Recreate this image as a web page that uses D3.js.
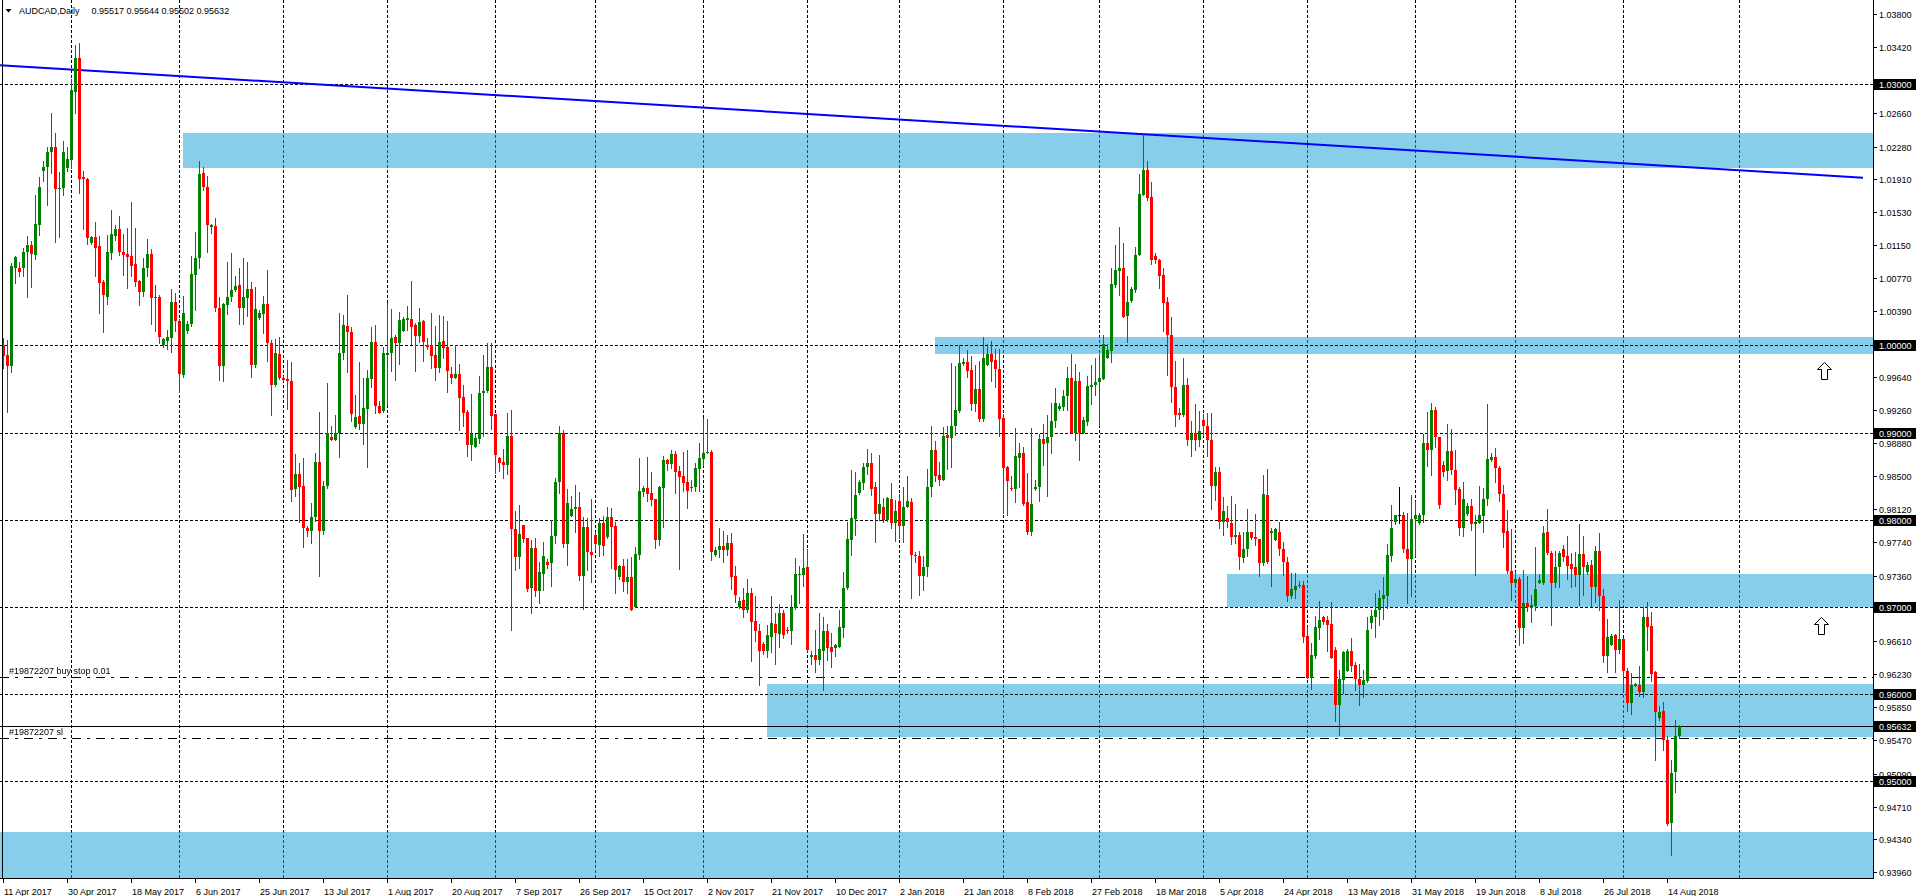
<!DOCTYPE html>
<html><head><meta charset="utf-8">
<script src="https://cdn.jsdelivr.net/npm/d3@7/dist/d3.min.js"></script>
<style>
html,body{margin:0;padding:0;background:#fff;overflow:hidden;}
svg{display:block;font-family:"Liberation Sans",Arial,sans-serif;}
</style></head><body>
<svg id="chart" width="1916" height="896"></svg>
<script>
// ---------------- data ----------------
const symbolTitle = "AUDCAD,Daily";
const lastQuote = ["0.95517", "0.95644", "0.95502", "0.95632"];
const firstBarDate = "2017-04-11";
const closedDays = ["2017-12-24", "2017-12-25", "2017-12-31", "2018-01-01"];
const futureDays = 20;

const opens = [1.0000,0.9989,0.9976,1.0089,1.0089,1.0089,1.0107,1.0115,1.0104,1.0138,
1.0200,1.0205,1.0222,1.0228,1.0179,1.0180,1.0203,1.0212,1.0291,1.0330,
1.0193,1.0191,1.0117,1.0124,1.0114,1.0073,1.0056,1.0106,1.0125,1.0134,
1.0107,1.0105,1.0102,1.0093,1.0074,1.0061,1.0089,1.0105,1.0054,1.0056,
1.0000,1.0005,1.0009,1.0050,1.0028,0.9966,1.0017,1.0024,1.0081,1.0100,
1.0198,1.0182,1.0136,1.0137,1.0043,0.9976,1.0046,1.0056,1.0063,1.0069,
1.0043,1.0054,1.0065,0.9977,1.0031,1.0036,1.0047,1.0003,0.9955,0.9990,
0.9963,0.9961,0.9959,0.9835,0.9853,0.9839,0.9791,0.9787,0.9803,0.9866,
0.9787,0.9839,0.9895,0.9892,0.9899,0.9991,1.0022,1.0015,0.9906,0.9919,
0.9910,0.9927,0.9961,1.0004,0.9930,0.9925,0.9989,0.9991,1.0010,1.0003,
1.0016,1.0029,1.0030,1.0023,1.0011,1.0028,1.0000,1.0000,0.9989,0.9974,
1.0005,0.9998,0.9967,0.9963,0.9967,0.9941,0.9924,0.9886,0.9883,0.9893,
0.9945,0.9948,0.9975,0.9921,0.9871,0.9866,0.9863,0.9896,0.9789,0.9757,
0.9794,0.9779,0.9722,0.9768,0.9718,0.9738,0.9752,0.9750,0.9781,0.9843,
0.9900,0.9772,0.9804,0.9812,0.9815,0.9736,0.9792,0.9763,0.9782,0.9771,
0.9796,0.9780,0.9803,0.9793,0.9734,0.9747,0.9729,0.9734,0.9700,0.9760,
0.9832,0.9836,0.9831,0.9824,0.9777,0.9836,0.9869,0.9864,0.9875,0.9856,
0.9850,0.9843,0.9838,0.9837,0.9858,0.9870,0.9876,0.9878,0.9760,0.9765,
0.9770,0.9765,0.9773,0.9735,0.9700,0.9708,0.9696,0.9716,0.9684,0.9672,
0.9657,0.9649,0.9666,0.9681,0.9669,0.9693,0.9674,0.9672,0.9699,0.9737,
0.9737,0.9746,0.9643,0.9645,0.9639,0.9650,0.9672,0.9654,0.9653,0.9654,
0.9676,0.9722,0.9777,0.9801,0.9831,0.9842,0.9860,0.9865,0.9837,0.9807,
0.9815,0.9800,0.9824,0.9796,0.9821,0.9793,0.9815,0.9820,0.9758,0.9759,
0.9735,0.9746,0.9838,0.9880,0.9851,0.9846,0.9897,0.9894,0.9907,0.9925,
0.9979,0.9981,0.9972,0.9933,0.9950,0.9915,0.9978,0.9990,0.9983,0.9973,
0.9917,0.9860,0.9836,0.9835,0.9871,0.9877,0.9820,0.9786,0.9835,0.9837,
0.9893,0.9888,0.9895,0.9913,0.9927,0.9929,0.9942,0.9962,0.9900,0.9959,
0.9900,0.9912,0.9952,0.9955,0.9958,0.9961,0.9986,0.9993,1.0069,1.0085,
1.0089,1.0034,1.0051,1.0063,1.0104,1.0173,1.0201,1.0170,1.0102,1.0098,
1.0081,1.0050,1.0012,0.9952,0.9923,0.9920,0.9955,0.9891,0.9900,0.9892,
0.9914,0.9908,0.9891,0.9839,0.9855,0.9797,0.9802,0.9796,0.9780,0.9783,
0.9756,0.9766,0.9786,0.9780,0.9778,0.9750,0.9828,0.9785,0.9777,0.9786,
0.9767,0.9752,0.9712,0.9720,0.9724,0.9725,0.9667,0.9619,0.9644,0.9676,
0.9689,0.9685,0.9680,0.9651,0.9588,0.9616,0.9627,0.9649,0.9633,0.9617,
0.9610,0.9615,0.9682,0.9688,0.9696,0.9709,0.9713,0.9759,0.9798,0.9806,
0.9806,0.9767,0.9755,0.9801,0.9796,0.9805,0.9888,0.9880,0.9926,0.9895,
0.9863,0.9856,0.9879,0.9857,0.9835,0.9791,0.9807,0.9816,0.9795,0.9796,
0.9804,0.9824,0.9869,0.9872,0.9859,0.9830,0.9787,0.9741,0.9728,0.9732,
0.9676,0.9704,0.9699,0.9701,0.9728,0.9728,0.9786,0.9762,0.9728,0.9746,
0.9767,0.9758,0.9749,0.9746,0.9737,0.9761,0.9740,0.9748,0.9723,0.9764,
0.9713,0.9644,0.9656,0.9668,0.9651,0.9663,0.9627,0.9590,0.9609,0.9611,
0.9603,0.9688,0.9678,0.9625,0.9573,0.9581,0.9548,0.9452,0.9511,0.95517];

const highs = [1.0009,1.0006,1.0094,1.0103,1.0096,1.0112,1.0125,1.0120,1.0173,1.0193,
1.0211,1.0227,1.0267,1.0244,1.0199,1.0234,1.0228,1.0305,1.0345,1.0347,
1.0200,1.0192,1.0125,1.0142,1.0125,1.0075,1.0127,1.0155,1.0138,1.0148,
1.0128,1.0135,1.0164,1.0135,1.0075,1.0100,1.0122,1.0111,1.0069,1.0058,
1.0009,1.0018,1.0065,1.0060,1.0030,1.0057,1.0028,1.0102,1.0130,1.0211,
1.0204,1.0194,1.0139,1.0146,1.0056,1.0049,1.0096,1.0106,1.0080,1.0089,
1.0100,1.0096,1.0073,1.0067,1.0041,1.0057,1.0086,1.0006,1.0007,1.0010,
0.9965,0.9983,0.9981,0.9875,0.9865,0.9871,0.9793,0.9819,0.9876,0.9924,
0.9844,0.9957,0.9907,0.9920,1.0037,1.0035,1.0058,1.0021,0.9943,0.9981,
0.9963,0.9972,1.0021,1.0023,0.9936,0.9998,1.0049,1.0042,1.0012,1.0038,
1.0033,1.0045,1.0074,1.0026,1.0043,1.0029,1.0008,1.0037,1.0022,1.0035,
1.0034,1.0028,0.9975,1.0000,0.9979,0.9954,0.9926,0.9944,0.9898,0.9965,
0.9989,1.0003,1.0003,0.9921,0.9872,0.9881,0.9922,0.9926,0.9810,0.9817,
0.9794,0.9779,0.9777,0.9779,0.9752,0.9775,0.9755,0.9800,0.9848,0.9908,
0.9903,0.9835,0.9827,0.9840,0.9832,0.9803,0.9802,0.9824,0.9786,0.9802,
0.9804,0.9815,0.9814,0.9797,0.9748,0.9755,0.9755,0.9757,0.9769,0.9871,
0.9839,0.9872,0.9855,0.9824,0.9839,0.9873,0.9870,0.9880,0.9879,0.9862,
0.9878,0.9880,0.9846,0.9865,0.9888,0.9917,0.9915,0.9880,0.9769,0.9791,
0.9787,0.9783,0.9785,0.9747,0.9711,0.9722,0.9732,0.9722,0.9713,0.9681,
0.9660,0.9679,0.9712,0.9693,0.9703,0.9697,0.9677,0.9714,0.9756,0.9747,
0.9784,0.9767,0.9650,0.9674,0.9693,0.9688,0.9680,0.9670,0.9658,0.9696,
0.9740,0.9798,0.9857,0.9855,0.9846,0.9865,0.9881,0.9877,0.9843,0.9874,
0.9825,0.9826,0.9842,0.9823,0.9829,0.9837,0.9850,0.9825,0.9763,0.9764,
0.9759,0.9858,0.9907,0.9890,0.9866,0.9906,0.9908,0.9980,0.9976,1.0000,
0.9985,0.9995,0.9988,0.9978,0.9982,1.0010,1.0001,1.0005,0.9996,0.9996,
0.9921,0.9862,0.9850,0.9905,0.9888,0.9884,0.9854,0.9905,0.9846,0.9898,
0.9910,0.9920,0.9934,0.9951,0.9934,0.9949,0.9975,0.9990,0.9979,0.9969,
0.9918,0.9965,0.9977,0.9985,0.9990,1.0012,1.0002,1.0089,1.0115,1.0136,
1.0117,1.0080,1.0067,1.0113,1.0197,1.0242,1.0211,1.0187,1.0106,1.0099,
1.0089,1.0056,1.0032,0.9982,0.9928,0.9986,0.9962,0.9913,0.9933,0.9925,
0.9921,0.9922,0.9922,0.9860,0.9860,0.9826,0.9816,0.9827,0.9818,0.9786,
0.9786,0.9812,0.9786,0.9807,0.9778,0.9851,0.9858,0.9790,0.9791,0.9798,
0.9774,0.9757,0.9739,0.9739,0.9730,0.9730,0.9678,0.9659,0.9690,0.9707,
0.9690,0.9690,0.9706,0.9654,0.9628,0.9650,0.9652,0.9664,0.9637,0.9635,
0.9628,0.9688,0.9697,0.9716,0.9720,0.9734,0.9772,0.9817,0.9806,0.9838,
0.9809,0.9808,0.9828,0.9822,0.9808,0.9898,0.9924,0.9934,0.9929,0.9895,
0.9867,0.9910,0.9904,0.9880,0.9837,0.9843,0.9819,0.9824,0.9806,0.9839,
0.9836,0.9933,0.9877,0.9882,0.9862,0.9840,0.9811,0.9789,0.9740,0.9734,
0.9742,0.9736,0.9714,0.9769,0.9738,0.9793,0.9812,0.9764,0.9764,0.9764,
0.9771,0.9781,0.9762,0.9763,0.9795,0.9781,0.9752,0.9754,0.9770,0.9785,
0.9721,0.9686,0.9669,0.9669,0.9708,0.9664,0.9630,0.9624,0.9613,0.9632,
0.9700,0.9706,0.9694,0.9626,0.9586,0.9591,0.9552,0.9525,0.9570,0.95644];

const lows = [0.9974,0.9924,0.9970,1.0071,1.0080,1.0080,1.0056,1.0067,1.0099,1.0126,
1.0188,1.0161,1.0198,1.0118,1.0124,1.0172,1.0200,1.0203,1.0267,1.0175,
1.0133,1.0116,1.0116,1.0080,1.0037,1.0015,1.0048,1.0099,1.0121,1.0104,
1.0081,1.0066,1.0080,1.0068,1.0046,1.0057,1.0080,1.0025,1.0017,1.0003,
0.9998,0.9996,0.9992,1.0017,0.9946,0.9964,1.0014,1.0022,1.0040,1.0089,
1.0178,1.0107,1.0129,1.0039,0.9960,0.9959,1.0036,1.0051,1.0062,1.0025,
1.0025,1.0034,0.9964,0.9975,1.0030,1.0014,0.9982,0.9920,0.9953,0.9961,
0.9959,0.9927,0.9821,0.9827,0.9797,0.9769,0.9781,0.9773,0.9799,0.9735,
0.9784,0.9836,0.9891,0.9891,0.9872,0.9984,0.9970,0.9913,0.9905,0.9904,
0.9887,0.9860,0.9952,0.9923,0.9923,0.9924,0.9932,0.9971,0.9960,0.9979,
1.0016,1.0018,1.0002,0.9971,1.0004,0.9982,0.9996,0.9974,0.9960,0.9969,
0.9985,0.9947,0.9957,0.9963,0.9903,0.9907,0.9873,0.9869,0.9883,0.9888,
0.9896,0.9947,0.9904,0.9854,0.9856,0.9848,0.9852,0.9674,0.9742,0.9745,
0.9774,0.9718,0.9693,0.9713,0.9705,0.9719,0.9745,0.9724,0.9773,0.9831,
0.9769,0.9748,0.9804,0.9786,0.9731,0.9698,0.9742,0.9729,0.9765,0.9759,
0.9760,0.9779,0.9745,0.9716,0.9732,0.9718,0.9716,0.9697,0.9700,0.9755,
0.9827,0.9821,0.9817,0.9768,0.9771,0.9792,0.9857,0.9859,0.9831,0.9744,
0.9833,0.9814,0.9833,0.9833,0.9833,0.9863,0.9876,0.9754,0.9758,0.9757,
0.9752,0.9760,0.9721,0.9706,0.9699,0.9688,0.9694,0.9638,0.9661,0.9611,
0.9646,0.9643,0.9648,0.9635,0.9654,0.9664,0.9670,0.9658,0.9698,0.9704,
0.9724,0.9650,0.9635,0.9625,0.9635,0.9605,0.9639,0.9631,0.9644,0.9654,
0.9665,0.9721,0.9760,0.9783,0.9829,0.9835,0.9852,0.9828,0.9774,0.9800,
0.9798,0.9799,0.9790,0.9776,0.9779,0.9774,0.9815,0.9710,0.9752,0.9714,
0.9719,0.9735,0.9827,0.9844,0.9840,0.9846,0.9858,0.9860,0.9897,0.9924,
0.9977,0.9964,0.9926,0.9925,0.9913,0.9913,0.9978,0.9959,0.9952,0.9896,
0.9808,0.9805,0.9834,0.9820,0.9838,0.9817,0.9784,0.9782,0.9834,0.9821,
0.9863,0.9827,0.9877,0.9906,0.9926,0.9926,0.9926,0.9900,0.9891,0.9868,
0.9899,0.9909,0.9933,0.9943,0.9909,0.9961,0.9986,0.9981,1.0067,1.0058,
1.0033,1.0004,1.0050,1.0061,1.0104,1.0173,1.0167,1.0093,1.0094,1.0066,
1.0016,0.9966,0.9935,0.9908,0.9915,0.9919,0.9886,0.9873,0.9880,0.9885,
0.9897,0.9873,0.9812,0.9823,0.9790,0.9782,0.9792,0.9772,0.9773,0.9744,
0.9751,0.9759,0.9778,0.9771,0.9736,0.9748,0.9750,0.9724,0.9777,0.9760,
0.9737,0.9707,0.9710,0.9710,0.9723,0.9660,0.9618,0.9606,0.9641,0.9663,
0.9680,0.9650,0.9641,0.9569,0.9553,0.9601,0.9626,0.9627,0.9605,0.9587,
0.9597,0.9614,0.9676,0.9665,0.9679,0.9686,0.9699,0.9753,0.9795,0.9796,
0.9763,0.9705,0.9713,0.9758,0.9795,0.9798,0.9862,0.9851,0.9884,0.9814,
0.9850,0.9846,0.9852,0.9818,0.9782,0.9781,0.9806,0.9788,0.9737,0.9796,
0.9786,0.9817,0.9867,0.9843,0.9822,0.9769,0.9739,0.9708,0.9726,0.9656,
0.9659,0.9695,0.9683,0.9697,0.9727,0.9726,0.9761,0.9679,0.9723,0.9723,
0.9753,0.9732,0.9723,0.9724,0.9702,0.9714,0.9738,0.9701,0.9706,0.9696,
0.9637,0.9625,0.9656,0.9625,0.9647,0.9606,0.9581,0.9577,0.9609,0.9598,
0.9597,0.9651,0.9615,0.9524,0.9570,0.9536,0.9450,0.9416,0.9488,0.95502];

const closes = [0.9988,0.9976,1.0091,1.0101,1.0084,1.0107,1.0115,1.0105,1.0139,1.0182,
1.0205,1.0222,1.0228,1.0179,1.0181,1.0222,1.0214,1.0293,1.0330,1.0191,
1.0191,1.0123,1.0124,1.0112,1.0072,1.0058,1.0107,1.0128,1.0134,1.0107,
1.0104,1.0101,1.0091,1.0073,1.0061,1.0089,1.0105,1.0054,1.0056,1.0010,
1.0007,1.0010,1.0050,1.0028,0.9967,1.0037,1.0025,1.0082,1.0100,1.0197,
1.0182,1.0138,1.0138,1.0043,0.9976,1.0047,1.0056,1.0064,1.0068,1.0043,
1.0055,1.0065,0.9978,1.0042,1.0037,1.0047,1.0003,0.9955,0.9991,0.9963,
0.9960,0.9959,0.9834,0.9853,0.9838,0.9791,0.9787,0.9803,0.9866,0.9787,
0.9839,0.9900,0.9891,0.9899,0.9991,1.0023,1.0015,0.9921,0.9918,0.9910,
0.9928,0.9963,1.0004,0.9930,0.9923,0.9991,0.9991,1.0008,1.0003,1.0029,
1.0030,1.0031,1.0021,1.0011,1.0027,1.0004,0.9998,0.9988,0.9974,1.0004,
0.9997,0.9971,0.9963,0.9967,0.9940,0.9923,0.9886,0.9898,0.9894,0.9945,
0.9948,0.9975,0.9919,0.9874,0.9865,0.9863,0.9896,0.9789,0.9757,0.9784,
0.9778,0.9721,0.9768,0.9718,0.9740,0.9758,0.9748,0.9781,0.9843,0.9900,
0.9772,0.9819,0.9812,0.9815,0.9736,0.9792,0.9763,0.9760,0.9772,0.9796,
0.9770,0.9803,0.9792,0.9742,0.9747,0.9729,0.9734,0.9697,0.9761,0.9833,
0.9836,0.9830,0.9823,0.9777,0.9838,0.9868,0.9864,0.9875,0.9855,0.9849,
0.9842,0.9833,0.9837,0.9859,0.9871,0.9877,0.9878,0.9763,0.9765,0.9770,
0.9765,0.9773,0.9734,0.9714,0.9707,0.9696,0.9716,0.9683,0.9672,0.9649,
0.9649,0.9668,0.9682,0.9670,0.9693,0.9668,0.9672,0.9699,0.9738,0.9738,
0.9745,0.9651,0.9645,0.9639,0.9652,0.9672,0.9653,0.9648,0.9656,0.9677,
0.9722,0.9778,0.9802,0.9828,0.9843,0.9860,0.9865,0.9835,0.9807,0.9818,
0.9800,0.9825,0.9796,0.9810,0.9793,0.9815,0.9821,0.9760,0.9760,0.9735,
0.9746,0.9838,0.9880,0.9850,0.9846,0.9896,0.9894,0.9907,0.9926,0.9980,
0.9981,0.9971,0.9933,0.9950,0.9915,0.9985,0.9990,0.9981,0.9973,0.9916,
0.9859,0.9844,0.9835,0.9873,0.9877,0.9818,0.9786,0.9818,0.9838,0.9893,
0.9887,0.9895,0.9913,0.9934,0.9931,0.9942,0.9962,0.9900,0.9959,0.9900,
0.9914,0.9953,0.9955,0.9958,0.9962,1.0002,0.9995,1.0070,1.0086,1.0089,
1.0033,1.0050,1.0065,1.0104,1.0174,1.0201,1.0169,1.0098,1.0098,1.0080,
1.0049,1.0012,0.9952,0.9920,0.9920,0.9955,0.9891,0.9898,0.9892,0.9902,
0.9908,0.9891,0.9839,0.9855,0.9797,0.9810,0.9797,0.9780,0.9783,0.9757,
0.9766,0.9786,0.9779,0.9778,0.9750,0.9829,0.9752,0.9787,0.9789,0.9766,
0.9751,0.9713,0.9721,0.9724,0.9725,0.9666,0.9619,0.9645,0.9677,0.9685,
0.9683,0.9679,0.9641,0.9588,0.9617,0.9648,0.9650,0.9632,0.9617,0.9611,
0.9616,0.9674,0.9690,0.9697,0.9710,0.9714,0.9760,0.9791,0.9806,0.9806,
0.9767,0.9755,0.9801,0.9805,0.9806,0.9888,0.9880,0.9926,0.9895,0.9817,
0.9855,0.9879,0.9857,0.9834,0.9791,0.9824,0.9816,0.9795,0.9798,0.9805,
0.9824,0.9870,0.9872,0.9859,0.9830,0.9785,0.9741,0.9727,0.9732,0.9676,
0.9704,0.9700,0.9702,0.9721,0.9731,0.9785,0.9762,0.9728,0.9746,0.9762,
0.9757,0.9747,0.9744,0.9737,0.9761,0.9746,0.9748,0.9723,0.9764,0.9712,
0.9644,0.9666,0.9667,0.9651,0.9663,0.9626,0.9590,0.9610,0.9612,0.9603,
0.9688,0.9677,0.9623,0.9580,0.9580,0.9547,0.9451,0.9510,0.9552,0.95632];

const dateTickLabels = ["11 Apr 2017","30 Apr 2017","18 May 2017","6 Jun 2017","25 Jun 2017",
"13 Jul 2017","1 Aug 2017","20 Aug 2017","7 Sep 2017","26 Sep 2017","15 Oct 2017",
"2 Nov 2017","21 Nov 2017","10 Dec 2017","2 Jan 2018","21 Jan 2018","8 Feb 2018",
"27 Feb 2018","18 Mar 2018","5 Apr 2018","24 Apr 2018","13 May 2018","31 May 2018",
"19 Jun 2018","8 Jul 2018","26 Jul 2018","14 Aug 2018"];
const barsPerDateLabel = 16;

const priceTickLabels = ["1.03800","1.03420","1.02660","1.02280","1.01910","1.01530",
"1.01150","1.00770","1.00390","0.99640","0.99260","0.98880","0.98500","0.98120",
"0.97740","0.97360","0.96610","0.96230","0.95850","0.95470","0.95090","0.94710",
"0.94340","0.93960"];

const levelLines = ["1.03000","1.00000","0.99000","0.98000","0.97000","0.96000","0.95000"];
const bidPrice = "0.95632";

const zoneFromBar = [45, 233, 306, 191, -20];
const zoneTop     = [1.0244, 1.0010, 0.9738, 0.9612, 0.9442];
const zoneBottom  = [1.0203, 0.9990, 0.9700, 0.9551, 0.9300];

const trendBars   = [-0.875, 464.875];
const trendPrices = [1.03213, 1.01923];

const orderLabels = ["#19872207 buy stop 0.01", "#19872207 sl"];
const orderPrices = [0.96197, 0.95494];

const arrowBars   = [455.2, 454.4];
const arrowPrices = [0.9981, 0.9689];

// ---------------- layout ----------------
const W = 1916, H = 896;
const plotRight = 1873, plotBottom = 878;
const nBars = opens.length;

const svg = d3.select("#chart");
svg.append("rect").attr("width", W).attr("height", H).attr("fill", "#fff");

const x = d3.scaleLinear().domain([0, nBars - 1]).range([3.5, 3.5 + 4 * (nBars - 1)]);
const y = d3.scaleLinear().domain([0.938917, 1.039606]).range([plotBottom, 0]);
const yr = v => Math.round(y(v));

// bar dates (Sunday sessions included, Saturdays and closed days skipped);
// a short stretch beyond the last bar runs on calendar days
const barDates = [];
{
  let d = new Date(firstBarDate + "T00:00:00Z");
  const fmt = d3.utcFormat("%Y-%m-%d");
  while (barDates.length < nBars) {
    if (d.getUTCDay() !== 6 && !closedDays.includes(fmt(d))) barDates.push(new Date(d));
    d = new Date(d.getTime() + 86400000);
  }
}
const slots = d3.range(nBars).map(i => ({i, date: barDates[i]}));
for (let k = 1; k <= futureDays; k++) {
  slots.push({i: nBars - 1 + k, date: new Date(barDates[nBars - 1].getTime() + k * 86400000)});
}
const monthStarts = slots.filter((s, k) => k > 0 && s.date.getUTCMonth() !== slots[k - 1].date.getUTCMonth());
const bars = d3.range(nBars).map(i => ({i, o: opens[i], h: highs[i], l: lows[i], c: closes[i]}));

svg.append("defs").append("clipPath").attr("id", "plotClip")
  .append("rect").attr("x", 0).attr("y", 0).attr("width", plotRight).attr("height", plotBottom);

const plot = svg.append("g").attr("clip-path", "url(#plotClip)");
plot.append("rect").attr("width", plotRight).attr("height", plotBottom).attr("fill", "#fff");

// zones
const zones = zoneTop.map((t, k) => ({from: zoneFromBar[k], top: t, bottom: zoneBottom[k]}));
plot.append("g").selectAll("rect").data(zones).join("rect")
  .attr("x", d => Math.max(0, Math.round(x(d.from) - 0.5)))
  .attr("y", d => yr(d.top))
  .attr("width", d => plotRight - Math.max(0, Math.round(x(d.from) - 0.5)))
  .attr("height", d => yr(d.bottom) - yr(d.top))
  .attr("fill", "#87CEEB");

// vertical grid (inverting, like the terminal's grid)
plot.append("g").style("mix-blend-mode", "difference")
  .selectAll("line").data(monthStarts).join("line")
  .attr("x1", d => x(d.i)).attr("x2", d => x(d.i))
  .attr("y1", 0).attr("y2", plotBottom)
  .attr("stroke", "#fff").attr("stroke-width", 1)
  .attr("stroke-dasharray", "3,2").attr("shape-rendering", "crispEdges");

// horizontal level lines
plot.append("g").selectAll("line").data(levelLines).join("line")
  .attr("x1", 0).attr("x2", plotRight)
  .attr("y1", d => yr(+d) + 0.5).attr("y2", d => yr(+d) + 0.5)
  .attr("stroke", "#000").attr("stroke-dasharray", "3,2").attr("shape-rendering", "crispEdges");

// order lines
plot.append("g").selectAll("line").data(orderPrices).join("line")
  .attr("x1", 0).attr("x2", plotRight)
  .attr("y1", d => yr(d) + 0.5).attr("y2", d => yr(d) + 0.5)
  .attr("stroke", "#000").attr("stroke-dasharray", "9,6,3,6").attr("shape-rendering", "crispEdges");

// bid line
plot.append("line").attr("x1", 0).attr("x2", plotRight)
  .attr("y1", yr(+bidPrice) + 0.5).attr("y2", yr(+bidPrice) + 0.5)
  .attr("stroke", "#000").attr("shape-rendering", "crispEdges");

// trend line
plot.append("line")
  .attr("x1", x(trendBars[0])).attr("y1", y(trendPrices[0]))
  .attr("x2", x(trendBars[1])).attr("y2", y(trendPrices[1]))
  .attr("stroke", "#0000FF").attr("stroke-width", 2);

// candles
const colorOf = d => d.c > d.o ? "#008000" : (d.c < d.o ? "#FF0000" : "#000000");
const cg = plot.append("g").attr("shape-rendering", "crispEdges");
cg.selectAll("rect.wick").data(bars).join("rect").attr("class", "wick")
  .attr("x", d => x(d.i) - 0.5).attr("width", 1)
  .attr("y", d => yr(d.h)).attr("height", d => Math.max(1, yr(d.l) - yr(d.h) + 1))
  .attr("fill", colorOf);
cg.selectAll("rect.body").data(bars).join("rect").attr("class", "body")
  .attr("x", d => x(d.i) - 1.5).attr("width", 3)
  .attr("y", d => yr(Math.max(d.o, d.c)))
  .attr("height", d => Math.max(1, yr(Math.min(d.o, d.c)) - yr(Math.max(d.o, d.c))))
  .attr("fill", colorOf);

// arrows
const arrows = arrowBars.map((b, k) => ({b, p: arrowPrices[k]}));
plot.append("g").selectAll("path").data(arrows).join("path")
  .attr("transform", d => `translate(${Math.round(x(d.b)) + 0.5},${yr(d.p) + 0.5})`)
  .attr("d", "M0,0 L7,7 L3,7 L3,17 L-3,17 L-3,7 L-7,7 Z")
  .attr("fill", "#fff").attr("stroke", "#000").attr("stroke-width", 1);

// order labels
plot.append("g").selectAll("text").data(orderLabels).join("text")
  .attr("x", 9).attr("y", (d, k) => yr(orderPrices[k]) - 3.5)
  .attr("font-size", "9px").attr("fill", "#000").text(d => d);

// title
svg.append("path").attr("d", "M5.5,9 L11.5,9 L8.5,12.5 Z").attr("fill", "#000");
svg.append("text").attr("x", 19).attr("y", 14).attr("font-size", "9px").attr("fill", "#000").text(symbolTitle);
svg.append("text").attr("x", 91.5).attr("y", 14).attr("font-size", "9px").attr("fill", "#000").text(lastQuote.join(" "));

// frame / axes
svg.append("line").attr("x1", 2.5).attr("x2", 2.5).attr("y1", 0).attr("y2", plotBottom)
  .attr("stroke", "#000").attr("shape-rendering", "crispEdges");
svg.append("line").attr("x1", plotRight + 0.5).attr("x2", plotRight + 0.5).attr("y1", 0).attr("y2", plotBottom + 1)
  .attr("stroke", "#000").attr("shape-rendering", "crispEdges");
svg.append("line").attr("x1", 0).attr("x2", plotRight + 1).attr("y1", plotBottom + 0.5).attr("y2", plotBottom + 0.5)
  .attr("stroke", "#000").attr("shape-rendering", "crispEdges");

// price axis
const pa = svg.append("g");
pa.selectAll("line").data(priceTickLabels).join("line")
  .attr("x1", plotRight).attr("x2", plotRight + 4)
  .attr("y1", d => yr(+d) + 0.5).attr("y2", d => yr(+d) + 0.5)
  .attr("stroke", "#000").attr("shape-rendering", "crispEdges");
pa.selectAll("text").data(priceTickLabels).join("text")
  .attr("x", plotRight + 6).attr("y", d => yr(+d) + 3.5)
  .attr("font-size", "9px").attr("fill", "#000").text(d => d);

const hl = svg.append("g");
const boxed = levelLines.concat([bidPrice]);
hl.selectAll("rect").data(boxed).join("rect")
  .attr("x", plotRight + 1).attr("width", W - plotRight - 1)
  .attr("y", d => yr(+d) - 5).attr("height", 11).attr("fill", "#000");
hl.selectAll("text").data(boxed).join("text")
  .attr("x", plotRight + 6).attr("y", d => yr(+d) + 3.5)
  .attr("font-size", "9px").attr("fill", "#fff").text(d => d);

// time axis
const ta = svg.append("g");
const dateTicks = dateTickLabels.map((t, k) => ({t, i: k * barsPerDateLabel}));
ta.selectAll("line").data(dateTicks).join("line")
  .attr("x1", d => x(d.i)).attr("x2", d => x(d.i))
  .attr("y1", plotBottom).attr("y2", plotBottom + 5)
  .attr("stroke", "#000").attr("shape-rendering", "crispEdges");
ta.selectAll("text").data(dateTicks).join("text")
  .attr("x", d => x(d.i) + 0.5).attr("y", 894.5)
  .attr("font-size", "9px").attr("fill", "#000").text(d => d.t);
</script>
</body></html>
